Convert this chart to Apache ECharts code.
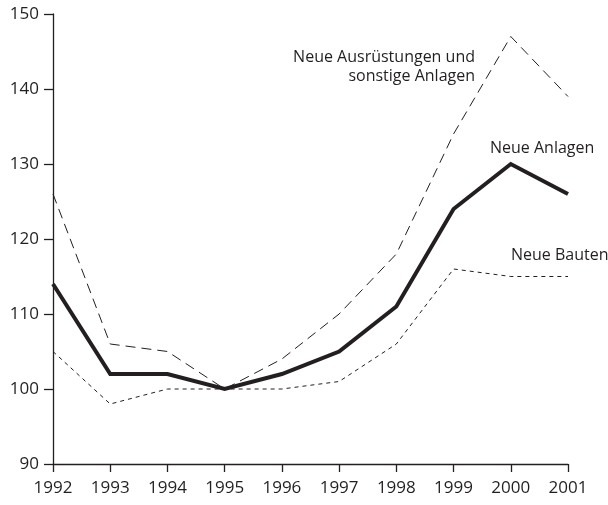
<!DOCTYPE html>
<html>
<head>
<meta charset="utf-8">
<script src="https://cdn.jsdelivr.net/npm/echarts@6/dist/echarts.min.js"></script>
<style>
  html, body { margin: 0; padding: 0; background: #fff; }
  #chart { width: 608px; height: 505px; }
</style>
</head>
<body>
<div id="chart"></div>
<script>
// Investitionen, Index 1995 = 100
var years = ['1992', '1993', '1994', '1995', '1996', '1997', '1998', '1999', '2000', '2001'];
var neueAnlagen = [114, 102, 102, 100, 102, 105, 111, 124, 130, 126];
var neueAusruestungen = [126, 106, 105, 100, 104, 110, 118, 134, 147, 139];
var neueBauten = [105, 98, 100, 100, 100, 101, 106, 116, 115, 115];
var yTicks = [90, 100, 110, 120, 130, 140, 150];

var ink = '#231f20';
var font = '"Open Sans", "Noto Sans", sans-serif';

var chart = echarts.init(document.getElementById('chart'));

var option = {
    backgroundColor: '#fff',
    animation: false,
    grid: {
        left: 53,
        right: 40,
        top: 14,
        bottom: 41
    },
    xAxis: {
        type: 'category',
        boundaryGap: false,
        data: years,
        axisLine: { lineStyle: { color: ink, width: 1.3 } },
        axisTick: { show: true, inside: false, length: 8, lineStyle: { color: ink, width: 1.3 } },
        axisLabel: { color: ink, fontSize: 17, fontFamily: font, margin: 16 },
        splitLine: { show: false }
    },
    yAxis: {
        type: 'value',
        min: yTicks[0],
        max: yTicks[yTicks.length - 1],
        interval: 10,
        axisLine: { show: true, lineStyle: { color: ink, width: 1.3 } },
        axisTick: { show: true, length: 9, lineStyle: { color: ink, width: 1.3 } },
        axisLabel: { color: ink, fontSize: 17, fontFamily: font, margin: 14 },
        splitLine: { show: false }
    },
    series: [
        {
            name: 'Neue Ausrüstungen und sonstige Anlagen',
            type: 'line',
            data: neueAusruestungen,
            symbol: 'none',
            lineStyle: { color: ink, width: 1, type: [10, 6] }
        },
        {
            name: 'Neue Bauten',
            type: 'line',
            data: neueBauten,
            symbol: 'none',
            lineStyle: { color: ink, width: 1, type: [4, 4] }
        },
        {
            name: 'Neue Anlagen',
            type: 'line',
            data: neueAnlagen,
            symbol: 'none',
            lineStyle: { color: ink, width: 4, join: 'miter' }
        }
    ],
    graphic: [
        {
            type: 'text',
            x: 475,
            y: 48,
            style: {
                text: 'Neue Ausrüstungen und\nsonstige Anlagen',
                align: 'right',
                verticalAlign: 'top',
                fill: ink,
                font: '16px ' + font,
                lineHeight: 19
            }
        },
        {
            type: 'text',
            x: 490,
            y: 140,
            style: { text: 'Neue Anlagen', verticalAlign: 'top', fill: ink, font: '16px ' + font }
        },
        {
            type: 'text',
            x: 511,
            y: 247,
            style: { text: 'Neue Bauten', verticalAlign: 'top', fill: ink, font: '16px ' + font }
        }
    ]
};
chart.setOption(option);
</script>
</body>
</html>
